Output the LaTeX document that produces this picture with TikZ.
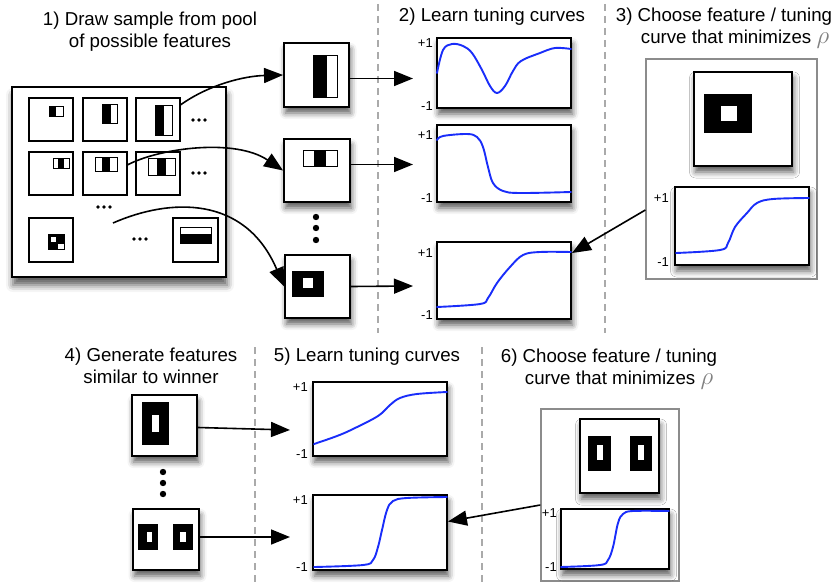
\documentclass[tikz,border=0pt]{standalone}
\usepackage{fontspec}
\setmainfont{Liberation Sans}
\usetikzlibrary{fit,arrows.meta,shadows.blur}
\definecolor{tcblue}{RGB}{25,45,250}
\definecolor{divgray}{RGB}{170,170,170}
\definecolor{boxgray}{RGB}{140,140,140}
\begin{document}
\begin{tikzpicture}[x=1pt,y=-1pt,
  shd/.style={blur shadow={shadow xshift=1.5pt,shadow yshift=-6pt,shadow blur radius=6pt,shadow opacity=65}},
  fbox/.style={draw,line width=1.9pt,fill=white,inner sep=0pt,shd},
  sbox/.style={draw,line width=1.3pt,fill=white,inner sep=0pt},
  gbox/.style={draw=boxgray,line width=1.3pt,fill=white,inner sep=0pt},
  tc/.style={tcblue,line width=1.9pt,line cap=round},
  arr/.style={line width=1.6pt,-{Triangle[length=19pt,width=15pt]}},
  divider/.style={divgray,line width=1.2pt,dash pattern=on 7pt off 5pt},
  title/.style={font=\fontsize{18.7}{22}\selectfont,align=center,inner sep=0pt},
  lbl/.style={font=\fontsize{13}{15}\selectfont,inner sep=0pt,anchor=east},
  pat/.style={draw,line width=0.8pt,fill=white}
]
\useasboundingbox (0,0) rectangle (837,583);

% dividers
\draw[divider] (378,4) -- (378,333);
\draw[divider] (605,4) -- (605,333);
\draw[divider] (255,347) -- (255,583);
\draw[divider] (482,347) -- (482,583);

% titles
\node[title,anchor=north] (ttl1) at (150,12) {1) Draw sample from pool\\of possible features};
\node[title,anchor=base] (ttl2) at (492,21.7) {2) Learn tuning curves};
\node[title,anchor=north] (ttl3) at (724,8.2) {3) Choose feature / tuning\\\hspace*{22pt}curve that minimizes {\color{gray}\fontsize{23}{23}\selectfont$\rho$}};
\node[title,anchor=north] (ttl4) at (151,347.5) {4) Generate features\\similar to winner};
\node[title,anchor=base] (ttl5) at (367,361.7) {5) Learn tuning curves};
\node[title,anchor=north] (ttl6) at (609,348.8) {6) Choose feature / tuning\\\hspace*{20pt}curve that minimizes {\color{gray}\fontsize{23}{23}\selectfont$\rho$}};

% pool
\node[fit={(12,87) (226,277)},draw,line width=1.9pt,fill=white,inner sep=0pt,
  blur shadow={shadow xshift=1pt,shadow yshift=-8pt,shadow blur radius=7pt,shadow opacity=65}] (pool) {};
\node[sbox,fit={(29,98) (73,141)}] (p11) {};
\node[sbox,fit={(83,98) (127,141)}] (p12) {};
\node[sbox,fit={(136,98) (180,141)}] (p13) {};
\node[sbox,fit={(29,152) (73,195)}] (p21) {};
\node[sbox,fit={(83,152) (127,195)}] (p22) {};
\node[sbox,fit={(136,152) (180,195)}] (p23) {};
\node[sbox,fit={(29,218) (73,262)}] (p31) {};
\node[sbox,fit={(173,218) (218,262)}] (p32) {};
% patterns in pool
\draw[pat] (49,106) rectangle (63,116); \fill (49,106) rectangle (56,116);
\draw[pat] (102,104) rectangle (117,123); \fill (102,104) rectangle (111,123);
\draw[pat] (155,105) rectangle (172,135); \fill (155,105) rectangle (164,135);
\draw[pat] (53,158) rectangle (69,168); \fill (58,158) rectangle (64,168);
\draw[pat] (95,157) rectangle (117,171); \fill (102,157) rectangle (110,171);
\draw[pat] (148,158) rectangle (175,175); \fill (157,158) rectangle (166,175);
\fill (48,234) rectangle (65,250);
\fill[white] (51,236.5) rectangle (56,241.5);
\fill[white] (58,244) rectangle (63.5,248.5);
\draw[pat] (180,227) rectangle (211,243); \fill (180,233.5) rectangle (211,243);
% pool dots
\foreach \cx/\cy in {193/120,199/120,205/120,193/173,199/173,205/173,98/207,104/207,110/207,134/239,140/239,146/239}
  \fill (\cx,\cy) circle (1.8pt);
\coordinate (pstart) at (113,223);

% sampled features
\node[fbox,fit={(284,43) (349,107)}] (A) {};
\draw[pat] (313,55) rectangle (337,97); \fill (313,55) rectangle (327,97);
\node[fbox,fit={(284,139) (350,202)}] (B) {};
\draw[pat] (303,150) rectangle (337,166); \fill (314,150) rectangle (326,166);
\node[fbox,fit={(285,255) (350,318)}] (C) {};
\fill (292,271) rectangle (324,297); \fill[white] (303,278) rectangle (313,288);
\foreach \cy in {217,228,240} \fill (316,\cy) circle (3.2pt);

% connectors pool -> features
\draw[arr] (p13.33) .. controls (210,84) and (245,76) .. (A.west);
\draw[arr] (p22.21) .. controls (160,148) and (235,138) .. (B.west);
\draw[arr] (pstart) .. controls (170,198) and (245,195) .. (C.west);

% tuning curves, step 2
\node[fbox,fit={(437,38) (571,108)}] (pl1) {};
\node[fbox,fit={(437,125) (571,202)}] (pl2) {};
\node[fbox,fit={(437,242) (571,319)}] (pl3) {};
\draw[tc] plot[smooth,tension=0.6] coordinates {(437,73) (443,50) (452,44) (463,46) (472,53) (482,70) (490,86) (497,93) (505,86) (513,71) (521,61) (540,53) (555,48) (571,49)};
\draw[tc] plot[smooth,tension=0.6] coordinates {(437,140) (443,136) (467,134) (477,137) (483,147) (488,167) (493,183) (503,191) (520,193) (571,192)};
\draw[tc] plot[smooth,tension=0.6] coordinates {(437,307) (480,304) (488,298) (497,283) (510,267) (523,255) (540,252) (571,252)};
\node[lbl] (pl1hi) at (433,43) {+1};
\node[lbl] (pl1lo) at (433,106) {-1};
\node[lbl] (pl2hi) at (433,135) {+1};
\node[lbl] (pl2lo) at (433,198) {-1};
\node[lbl] (pl3hi) at (433,253) {+1};
\node[lbl] (pl3lo) at (433,315) {-1};
\coordinate (a1) at (413,78.5);
\coordinate (a2) at (413,164.5);
\coordinate (a3) at (413,286);
\draw[arr] ([yshift=-3.5pt]A.east) -- (a1);
\draw[arr] ([yshift=6pt]B.east) -- (a2);
\draw[arr] (C.east) -- (a3);

% step 3
\node[gbox,fit={(646,59) (817,279)}] (G3) {};
\node[fbox,fit={(694,72) (792,166)}] (F3) {};
\fill (704,94) rectangle (752,133); \fill[white] (721,106) rectangle (737,121);
\node[fbox,fit={(675,187) (809,265)}] (P3) {};
\draw[tc] plot[smooth,tension=0.6] coordinates {(676,253) (720,250) (728,243) (735,227) (747,213) (757,203) (773,199) (809,198)};
\node[lbl] (P3hi) at (669,198) {+1};
\node[lbl] (P3lo) at (669,262) {-1};
\coordinate (pl3end) at (572,253);
\draw[arr] ([yshift=-41pt]G3.west) -- (pl3end);

% step 4
\node[fbox,fit={(132,395) (197,456)}] (D) {};
\fill (142,402) rectangle (169,445); \fill[white] (152,415) rectangle (159,432);
\foreach \cy in {472,483,494} \fill (163,\cy) circle (3.2pt);
\node[fbox,fit={(133,509) (199,570)}] (E) {};
\fill (138,524) rectangle (158,550); \fill[white] (146.5,532) rectangle (152,542);
\fill (173,524) rectangle (193,550); \fill[white] (180,532) rectangle (185.5,542);

% step 5
\node[fbox,fit={(313,382) (447,456)}] (q1) {};
\node[fbox,fit={(313,495) (447,570)}] (q2) {};
\draw[tc] plot[smooth,tension=0.6] coordinates {(314,444) (337,436) (353,429) (378,416) (390,405) (400,398) (417,394) (447,392)};
\draw[tc] plot[smooth,tension=0.6] coordinates {(314,567) (363,565) (373,560) (378,547) (382,530) (387,510) (393,501) (407,498) (447,497)};
\node[lbl] (q1hi) at (308,387) {+1};
\node[lbl] (q1lo) at (308,454) {-1};
\node[lbl] (q2hi) at (308,500) {+1};
\node[lbl] (q2lo) at (308,567) {-1};
\coordinate (d1) at (290,430);
\coordinate (d2) at (290,537);
\draw[arr] ([yshift=-2pt]D.east) -- (d1);
\draw[arr] ([yshift=2.5pt]E.east) -- (d2);

% step 6
\node[gbox,fit={(541,409) (679,581)}] (G6) {};
\node[fbox,fit={(580,419) (659,493)}] (F6) {};
\fill (588,436) rectangle (611,471); \fill[white] (597,445) rectangle (603,460);
\fill (630,436) rectangle (652,471); \fill[white] (638,445) rectangle (644,460);
\node[fbox,fit={(561,509) (669,569)}] (P6) {};
\draw[tc] plot[smooth,tension=0.6] coordinates {(561,567) (600,565) (608,560) (613,547) (618,523) (623,514) (633,511) (669,511)};
\node[lbl] (P6hi) at (557,513) {+1};
\node[lbl] (P6lo) at (557,567) {-1};
\draw[arr] ([yshift=-10pt]G6.west) -- ([yshift=11pt]q2.east);

\end{tikzpicture}
\end{document}
